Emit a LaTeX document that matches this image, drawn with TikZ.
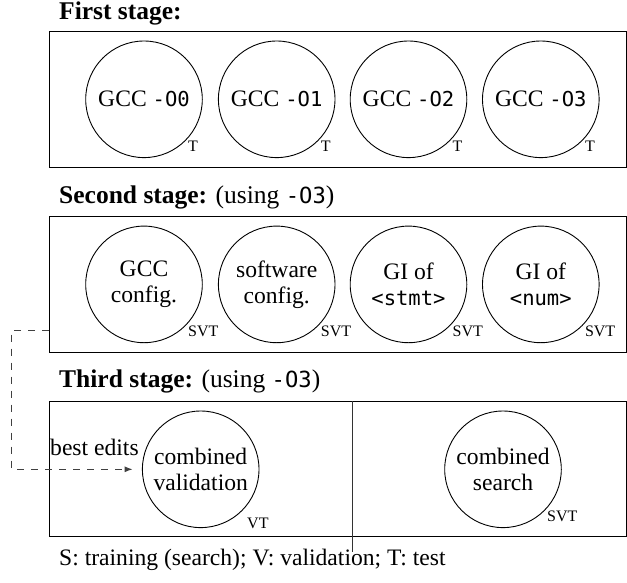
\documentclass[tikz,border=0pt]{standalone}
\usepackage{fontspec}
\setmainfont{Liberation Serif}
\setmonofont{DejaVu Sans Mono}[Scale=0.87]
\usetikzlibrary{arrows.meta,calc}
\newcommand\mainsz{\fontsize{23.6pt}{26pt}\selectfont}
\newcommand\titlesz{\fontsize{25.5pt}{30pt}\selectfont}
\newcommand\labsz{\fontsize{16pt}{18pt}\selectfont}
\begin{document}
\begin{tikzpicture}[x=1pt,y=-1pt,
  stagebox/.style={draw, line width=1pt, inner sep=0, minimum width=577pt},
  stage/.style={circle, draw, line width=0.9pt, inner sep=0, minimum size=116.6pt, align=center, font=\mainsz},
  lab/.style={font=\labsz, inner sep=0, anchor=north west, xshift=2.5pt, yshift=0.5pt},
  title/.style={font=\titlesz, anchor=base west, inner sep=0},
  note/.style={font=\mainsz, anchor=base west, inner sep=0},
  dashline/.style={dash pattern=on 7pt off 7pt, line width=0.9pt, draw=black!75, -{Latex[length=8pt,width=6pt]}}
]
\useasboundingbox (0,0) rectangle (627,582);

% titles
\node (t1) [title] at (59,19) {\textbf{First stage:}};
\node (t2) [title] at (59,203) {\textbf{Second stage:} (using \texttt{-O3})};
\node (t3) [title] at (59,387.3) {\textbf{Third stage:} (using \texttt{-O3})};

% boxes
\node (b1) [stagebox, minimum height=135.6pt] at (337.5,99.5) {};
\node (b2) [stagebox, minimum height=136.7pt] at (337.5,284.4) {};
\node (b3) [stagebox, minimum height=135pt] at (337.5,469.2) {};

% first stage
\node (a1) [stage] at (144,99.3) {GCC \texttt{-O0}};
\node (a2) [stage] at (276.7,99.3) {GCC \texttt{-O1}};
\node (a3) [stage] at (408.5,99.3) {GCC \texttt{-O2}};
\node (a4) [stage] at (540.8,99.3) {GCC \texttt{-O3}};
\node (la1) [lab] at (a1.-45) {T};
\node (la2) [lab] at (a2.-45) {T};
\node (la3) [lab] at (a3.-45) {T};
\node (la4) [lab] at (a4.-45) {T};

% second stage
\node (s1) [stage] at (144,284.4) {GCC\\config.};
\node (s2) [stage] at (276.7,284.4) {software\\config.};
\node (s3) [stage] at (408.5,284.4) {GI of\\\texttt{<stmt>}};
\node (s4) [stage] at (540.8,284.4) {GI of\\\texttt{<num>}};
\node (ls1) [lab] at (s1.-45) {SVT};
\node (ls2) [lab] at (s2.-45) {SVT};
\node (ls3) [lab] at (s3.-45) {SVT};
\node (ls4) [lab] at (s4.-45) {SVT};

% third stage
\node (cv) [stage] at (200.7,469.3) {combined\\validation};
\node (cs) [stage] at (503,469.3) {combined\\search};
\node (lcv) [font=\labsz, inner sep=0, anchor=north west] at (247,518) {VT};
\node (lcs) [lab] at (cs.-45) {SVT};

\coordinate (dv) at (352,552);
\draw[line width=0.9pt, draw=black!80] (dv |- b3.north) -- (dv);

% dashed connector
\coordinate (d0) at (49,330);
\coordinate (dc) at (11.7,469.3);
\draw[dashline] (d0) -| (dc) -- ([xshift=-9.4pt]cv.west);
\node (be) [note] at (50,455.5) {best edits};

% footer
\node (ft) [note] at (59,565) {S: training (search); V: validation; T: test};
\end{tikzpicture}
\end{document}
